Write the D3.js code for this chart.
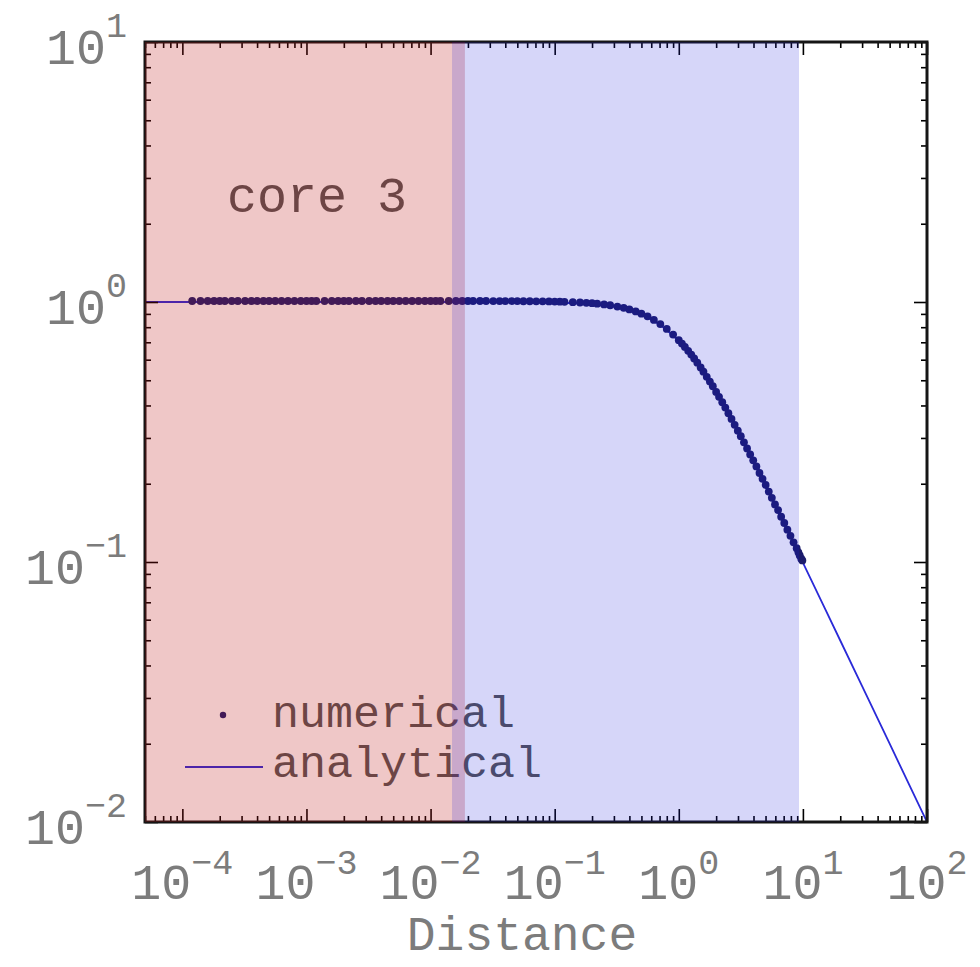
<!DOCTYPE html>
<html>
<head>
<meta charset="utf-8">
<script src="https://cdn.jsdelivr.net/npm/d3@7"></script>
<style>
  html, body { margin: 0; padding: 0; background: #fff; }
  svg { display: block; }
</style>
</head>
<body>
<svg id="chart" width="980" height="967"></svg>
<script>
// ---------------- data ----------------
const xDomain = [5e-5, 100];
const yDomain = [0.01, 10];

const xTickValues = [1e-4, 1e-3, 1e-2, 1e-1, 1, 10, 100];
const xTickExponents = ["-4", "-3", "-2", "-1", "0", "1", "2"];
const yTickValues = [10, 1, 0.1, 0.01];
const yTickExponents = ["1", "0", "-1", "-2"];

const xLabel = "Distance";
const annotation = "core 3";
const legendLabels = ["numerical", "analytical"];

// shaded regions (x extents)
const regionStart = [5e-5, 0.0149];
const regionEnd = [0.0189, 9.3];

// numerical solution (x, y)
const numerical = [
  [1.2e-4,1.000],[1.4e-4,1.000],[1.6e-4,1.000],[1.8e-4,1.000],[2.0e-4,1.000],[2.2e-4,1.000],
  [2.5e-4,1.000],[2.8e-4,1.000],[3.2e-4,1.000],[3.6e-4,1.000],[4.0e-4,1.000],[4.5e-4,1.000],
  [5.0e-4,1.000],[5.6e-4,1.000],[6.3e-4,1.000],[7.1e-4,1.000],[8.0e-4,1.000],[9.0e-4,1.000],
  [1.0e-3,1.000],[1.1e-3,1.000],[1.2e-3,1.000],[1.4e-3,1.000],[1.6e-3,1.000],[1.8e-3,1.000],
  [2.0e-3,1.000],[2.2e-3,1.000],[2.5e-3,1.000],[2.8e-3,1.000],[3.2e-3,1.000],[3.6e-3,1.000],
  [4.0e-3,1.000],[4.5e-3,1.000],[5.0e-3,1.000],[5.6e-3,1.000],[6.3e-3,1.000],[7.1e-3,1.000],
  [8.0e-3,1.000],[9.0e-3,1.000],
  [0.010,1.000],[0.011,1.000],[0.012,1.000],[0.014,1.000],[0.016,1.000],[0.018,1.000],
  [0.020,1.000],[0.022,1.000],[0.025,1.000],[0.028,1.000],[0.032,0.999],[0.036,0.999],
  [0.040,0.999],[0.045,0.999],[0.050,0.999],[0.056,0.998],[0.063,0.998],[0.071,0.997],
  [0.080,0.997],[0.090,0.996],
  [0.10,0.995],[0.11,0.994],[0.12,0.993],[0.14,0.990],[0.16,0.987],[0.18,0.984],
  [0.20,0.981],[0.22,0.977],[0.25,0.970],[0.28,0.963],[0.32,0.952],[0.36,0.941],
  [0.40,0.928],[0.45,0.912],[0.50,0.894],[0.56,0.873],[0.63,0.846],[0.71,0.815],
  [0.80,0.781],[0.90,0.743],
  [1.00,0.707],[1.06,0.686],[1.12,0.666],[1.19,0.643],[1.26,0.622],[1.33,0.601],
  [1.41,0.579],[1.50,0.555],[1.58,0.535],[1.68,0.511],[1.78,0.490],[1.88,0.470],
  [2.00,0.447],[2.11,0.428],[2.24,0.408],[2.37,0.389],[2.51,0.370],[2.66,0.352],
  [2.82,0.334],[2.99,0.317],[3.16,0.302],[3.35,0.286],[3.55,0.271],[3.76,0.257],
  [3.98,0.244],[4.22,0.231],[4.47,0.218],[4.73,0.207],[5.01,0.196],[5.31,0.185],
  [5.62,0.175],[5.96,0.165],[6.31,0.157],[6.68,0.148],[7.08,0.140],[7.50,0.132],
  [7.94,0.125],[8.41,0.118],[8.91,0.112],[9.20,0.108],[9.43,0.105],[9.70,0.102],
  [9.90,0.1005]
];

// analytical solution (x, y)
const analytical = [
  [5e-5,1.000],[1e-3,1.000],[0.01,1.000],[0.05,0.999],[0.10,0.995],[0.15,0.989],
  [0.20,0.981],[0.30,0.958],[0.40,0.928],[0.50,0.894],[0.60,0.857],[0.70,0.819],
  [0.80,0.781],[1.00,0.707],[1.25,0.625],[1.50,0.555],[1.75,0.496],[2.00,0.447],
  [2.50,0.371],[3.00,0.316],[4.00,0.243],[5.00,0.196],[6.00,0.164],[7.00,0.141],
  [10.0,0.0995],[15.0,0.0665],[20.0,0.0499],[30.0,0.0333],[50.0,0.0200],[100,0.0100]
];

// ---------------- layout ----------------
const L = 145, R = 927, T = 42, B = 822;
const FONT = "'Courier New', 'Liberation Mono', monospace";

const svg = d3.select("#chart");
svg.append("rect").attr("width", 980).attr("height", 967).attr("fill", "#fff");

const x = d3.scaleLog().domain(xDomain).range([L, R]);
const y = d3.scaleLog().domain(yDomain).range([B, T]);

svg.append("defs").append("clipPath").attr("id", "plotclip")
  .append("rect").attr("x", L).attr("y", T).attr("width", R - L).attr("height", B - T);

const plot = svg.append("g").attr("clip-path", "url(#plotclip)");

// analytical line
const line = d3.line().x(d => x(d[0])).y(d => y(d[1]));
plot.append("path").datum(analytical)
  .attr("d", line).attr("fill", "none")
  .attr("stroke", "#2a2ad8").attr("stroke-width", 1.8);

// numerical dots
plot.selectAll("circle.num").data(numerical).enter().append("circle")
  .attr("class", "num")
  .attr("cx", d => x(d[0])).attr("cy", d => y(d[1]) - 1)
  .attr("r", 3.9).attr("fill", "#1c1c6c");

// ---------------- ticks ----------------
const minorX = [];
[-5, -4, -3, -2, -1, 0, 1].forEach(e => {
  for (let m = 2; m <= 9; m++) {
    const v = m * Math.pow(10, e);
    if (v >= xDomain[0] && v <= xDomain[1]) minorX.push(v);
  }
});
const minorY = [];
[-2, -1, 0].forEach(e => {
  for (let m = 2; m <= 9; m++) minorY.push(m * Math.pow(10, e));
});

function styleAxis(g) {
  g.select(".domain").remove();
  g.selectAll("line").attr("stroke", "#000").attr("stroke-width", 1.6);
  g.selectAll("text").remove();
}

const MAJ = 13, MIN = 6;
svg.append("g").attr("transform", `translate(0,${B})`)
  .call(d3.axisBottom(x).tickValues(xTickValues).tickSize(-MAJ).tickFormat("")).call(styleAxis);
svg.append("g").attr("transform", `translate(0,${B})`)
  .call(d3.axisBottom(x).tickValues(minorX).tickSize(-MIN).tickFormat("")).call(styleAxis);
svg.append("g").attr("transform", `translate(0,${T})`)
  .call(d3.axisTop(x).tickValues(xTickValues).tickSize(-MAJ).tickFormat("")).call(styleAxis);
svg.append("g").attr("transform", `translate(0,${T})`)
  .call(d3.axisTop(x).tickValues(minorX).tickSize(-MIN).tickFormat("")).call(styleAxis);
svg.append("g").attr("transform", `translate(${L},0)`)
  .call(d3.axisLeft(y).tickValues(yTickValues).tickSize(-MAJ).tickFormat("")).call(styleAxis);
svg.append("g").attr("transform", `translate(${L},0)`)
  .call(d3.axisLeft(y).tickValues(minorY).tickSize(-MIN).tickFormat("")).call(styleAxis);
svg.append("g").attr("transform", `translate(${R},0)`)
  .call(d3.axisRight(y).tickValues(yTickValues).tickSize(-MAJ).tickFormat("")).call(styleAxis);
svg.append("g").attr("transform", `translate(${R},0)`)
  .call(d3.axisRight(y).tickValues(minorY).tickSize(-MIN).tickFormat("")).call(styleAxis);

// frame
svg.append("rect").attr("x", L).attr("y", T).attr("width", R - L).attr("height", B - T)
  .attr("fill", "none").attr("stroke", "#151515").attr("stroke-width", 3);

// ---------------- tick labels ----------------
const labelColor = "#7c7c7c";
xTickValues.forEach((v, i) => {
  const t = svg.append("text")
    .attr("x", x(v)).attr("y", 899)
    .attr("text-anchor", "middle")
    .attr("font-family", FONT).attr("font-size", 50).attr("fill", labelColor);
  t.append("tspan").text("10");
  t.append("tspan").attr("dy", -25).attr("font-size", 35).text(xTickExponents[i].replace("-", "\u2212"));
});
yTickValues.forEach((v, i) => {
  const t = svg.append("text")
    .attr("x", 127).attr("y", y(v) + 22)
    .attr("text-anchor", "end")
    .attr("font-family", FONT).attr("font-size", 50).attr("fill", labelColor);
  t.append("tspan").text("10");
  t.append("tspan").attr("dy", -27).attr("font-size", 35).text(yTickExponents[i].replace("-", "\u2212"));
});

// axis label
svg.append("text")
  .attr("x", 522).attr("y", 950)
  .attr("text-anchor", "middle")
  .attr("font-family", FONT).attr("font-size", 48).attr("fill", labelColor)
  .text(xLabel);

// annotation
svg.append("text")
  .attr("x", 227).attr("y", 212)
  .attr("font-family", FONT).attr("font-size", 50).attr("fill", "#555")
  .text(annotation);

// legend
svg.append("circle").attr("cx", 223).attr("cy", 715).attr("r", 3.2).attr("fill", "#1c1c6c");
svg.append("text").attr("x", 272).attr("y", 727)
  .attr("font-family", FONT).attr("font-size", 45).attr("fill", "#555").text(legendLabels[0]);
svg.append("line").attr("x1", 185).attr("x2", 263).attr("y1", 767).attr("y2", 767)
  .attr("stroke", "#2a2ad8").attr("stroke-width", 1.8);
svg.append("text").attr("x", 272).attr("y", 777)
  .attr("font-family", FONT).attr("font-size", 45).attr("fill", "#555").text(legendLabels[1]);

// ---------------- shaded regions (on top, translucent) ----------------
const regionFill = ["rgb(190,20,20)", "rgb(30,30,220)"];
const regionOpacity = [0.24, 0.18];
svg.append("g").selectAll("rect").data(regionStart).enter().append("rect")
  .attr("x", (d, i) => x(regionStart[i]))
  .attr("width", (d, i) => x(regionEnd[i]) - x(regionStart[i]))
  .attr("y", T).attr("height", B - T)
  .attr("fill", (d, i) => regionFill[i])
  .attr("fill-opacity", (d, i) => regionOpacity[i]);
</script>
</body>
</html>
